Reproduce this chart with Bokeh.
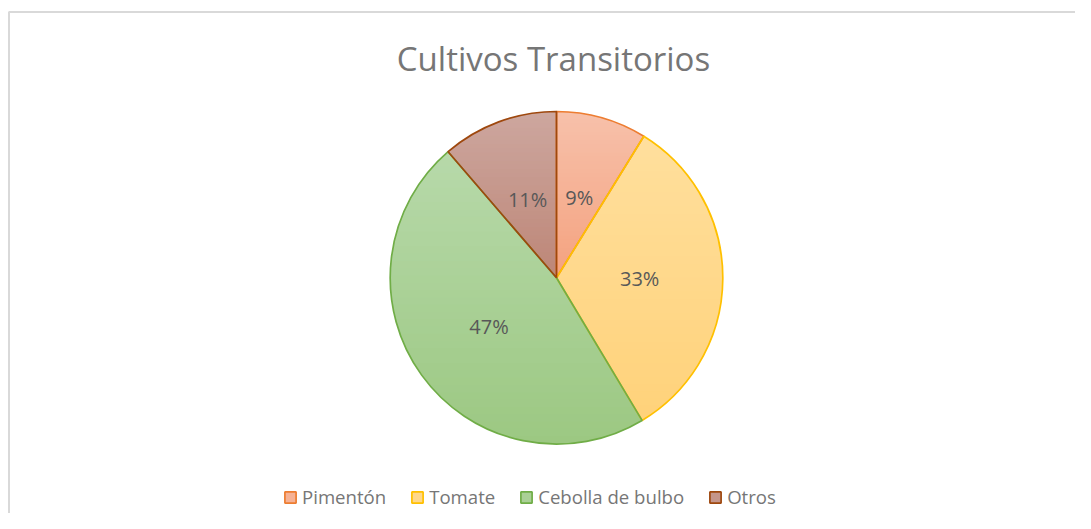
import math
from bokeh.plotting import figure
from bokeh.models import Range1d, Legend, LegendItem
from bokeh.core.properties import value
from bokeh.embed import file_html
from bokeh.resources import INLINE

# ---- data ----
title = "Cultivos Transitorios"
categories = ["Pimentón", "Tomate", "Cebolla de bulbo", "Otros"]
values = [8.8, 32.6, 47.3, 11.3]
top_colors = ["#f7c1ab", "#ffdf9d", "#b7d9aa", "#cda79f"]
bottom_colors = ["#f4a27f", "#ffd27a", "#9cc882", "#bd8677"]
line_colors = ["#ed7d31", "#ffc000", "#70ad47", "#9e480e"]

W, H = 1075, 513
p = figure(width=W, height=H, output_backend="svg", toolbar_location=None,
           x_range=Range1d(0, W), y_range=Range1d(0, H),
           min_border=0, outline_line_color=None)
p.axis.visible = False
p.grid.visible = False
p.background_fill_color = "white"
p.border_fill_color = "white"

# chart-area border (left & top visible; right/bottom run off the window)
p.line(x=[8.5, 8.5, W], y=[0, 501.5, 501.5], line_color="#d9d9d9", line_width=2)


def hex2rgb(h):
    h = h.lstrip("#")
    return [int(h[i:i + 2], 16) for i in (0, 2, 4)]


def mix(c0, c1, t):
    a, b = hex2rgb(c0), hex2rgb(c1)
    return "#%02x%02x%02x" % tuple(int(round(a[i] + (b[i] - a[i]) * t)) for i in range(3))


def clip(poly, lo, hi):
    def clip_half(pts, keep, inter):
        out = []
        n = len(pts)
        for i in range(n):
            P, Q = pts[i], pts[(i + 1) % n]
            kp, kq = keep(P), keep(Q)
            if kp:
                out.append(P)
            if kp != kq:
                out.append(inter(P, Q))
        return out

    def ix(P, Q, yv):
        t = (yv - P[1]) / (Q[1] - P[1])
        return (P[0] + t * (Q[0] - P[0]), yv)

    pts = clip_half(poly, lambda P: P[1] >= lo, lambda P, Q: ix(P, Q, lo))
    if not pts:
        return []
    pts = clip_half(pts, lambda P: P[1] <= hi, lambda P, Q: ix(P, Q, hi))
    return pts


# pie
cx, cy, R = 556, 235.7, 166.3
total = sum(values)
cum = 0.0
angles = []
for v in values:
    a0 = math.pi / 2 - 2 * math.pi * cum / total
    a1 = math.pi / 2 - 2 * math.pi * (cum + v) / total
    angles.append((a0, a1))
    cum += v

NB = 40
bx, by, bc = [], [], []
for (a0, a1), c0, c1 in zip(angles, top_colors, bottom_colors):
    steps = max(8, int(abs(a1 - a0) * 60))
    poly = [(cx, cy)] + [(cx + R * math.cos(a0 + (a1 - a0) * k / steps),
                          cy + R * math.sin(a0 + (a1 - a0) * k / steps)) for k in range(steps + 1)]
    ymin = min(pt[1] for pt in poly)
    ymax = max(pt[1] for pt in poly)
    hgt = (ymax - ymin) / NB
    for b in range(NB):
        hi = ymax - b * hgt
        lo = hi - hgt
        pts = clip(poly, lo - 0.7, hi + 0.7)
        if len(pts) < 3:
            continue
        bx.append([q[0] for q in pts])
        by.append([q[1] for q in pts])
        bc.append(mix(c0, c1, (b + 0.5) / NB))

p.patches(xs=bx, ys=by, fill_color=bc, line_color=None)

lx, ly, lt = [], [], []
for v, (a0, a1), lc in zip(values, angles, line_colors):
    p.wedge(x=cx, y=cy, radius=R, start_angle=a0, end_angle=a1, direction="clock",
            fill_color=None, line_color=lc, line_width=1.7)
    mid = (a0 + a1) / 2
    lx.append(cx + 0.5 * R * math.cos(mid))
    ly.append(cy + 0.5 * R * math.sin(mid))
    lt.append(f"{round(100 * v / total)}%")

p.text(x=lx, y=ly, text=lt, text_align="center", text_baseline="middle",
       text_font=value("Open Sans"), text_font_size="20px", text_color="#585858")

# title
p.text(x=[553], y=[455], text=[title], text_align="center", text_baseline="middle",
       text_font=value("Open Sans"), text_font_size="33px", text_color="#767676")

# legend (off-screen proxy quads give the square swatches)
items = []
for cat, c0, c1, lc in zip(categories, top_colors, bottom_colors, line_colors):
    sw = p.quad(left=[-60], right=[-50], bottom=[-60], top=[-50],
                fill_color=mix(c0, c1, 0.5), line_color=lc, line_width=1.7)
    items.append(LegendItem(label=cat, renderers=[sw]))

legend = Legend(items=items, orientation="horizontal", location=(283, 4),
                glyph_width=14, glyph_height=14, label_standoff=5, spacing=24,
                padding=0, margin=0, border_line_color=None, background_fill_alpha=0,
                label_text_font="Open Sans", label_text_font_size="18.6px",
                label_text_color="#767676", label_height=20)
p.add_layout(legend)

open("out.html", "w").write(file_html(p, INLINE))
